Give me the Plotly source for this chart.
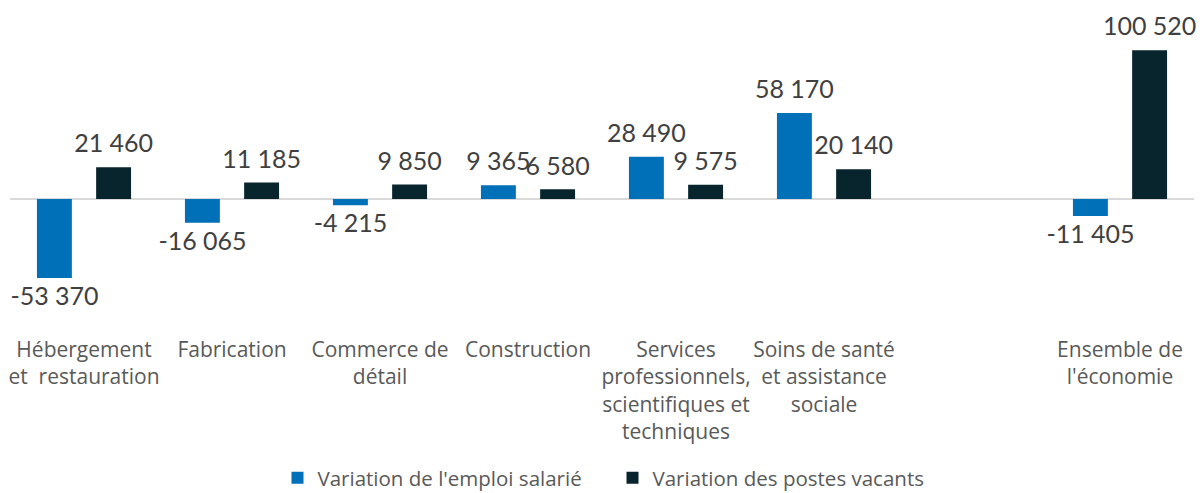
import plotly.graph_objects as go

categories = [
    "Hébergement<br>et  restauration",
    "Fabrication",
    "Commerce de<br>détail",
    "Construction",
    "Services<br>professionnels,<br>scientifiques et<br>techniques",
    "Soins de santé<br>et assistance<br>sociale",
    " ",
    "Ensemble de<br>l'économie",
]
emploi = [-53370, -16065, -4215, 9365, 28490, 58170, None, -11405]
postes = [21460, 11185, 9850, 6580, 9575, 20140, None, 100520]
series_names = ["Variation de l'emploi salarié", "Variation des postes vacants"]
colors = ["#0070B8", "#08242D"]

def fmt(v):
    if v is None:
        return ""
    s = f"{abs(v):,}".replace(",", "\u202f")
    return ("-" if v < 0 else "") + s

FONT = "Open Sans"
NUMFONT = "Lato"
fig = go.Figure()
for i, (name, vals, col) in enumerate(zip(series_names, [emploi, postes], colors)):
    fig.add_trace(go.Bar(
        x=categories, y=vals, name=name, offsetgroup=str(i),
        marker=dict(color=col, line=dict(width=0)),
    ))
for i, vals in enumerate([emploi, postes]):
    fig.add_trace(go.Scatter(
        x=categories, y=vals, mode="markers+text", offsetgroup=str(i), showlegend=False,
        text=[fmt(v) for v in vals],
        textposition=["bottom center" if (v is not None and v < 0) else "top center" for v in vals],
        textfont=dict(family=NUMFONT, size=25, color="#404040"),
        marker=dict(size=12, color="rgba(0,0,0,0)"), cliponaxis=False, hoverinfo="skip",
    ))

fig.update_layout(
    width=1203, height=493,
    margin=dict(l=10, r=9, t=30, b=163),
    paper_bgcolor="white", plot_bgcolor="white",
    barmode="group", scattermode="group", bargap=0.2, scattergap=0.2, bargroupgap=0.41,
    font=dict(family=FONT, size=21, color="#595959"),
    showlegend=True,
    legend=dict(orientation="h", xref="container", yref="container",
                x=0.5 + 11 / 1203, xanchor="center", y=1 - 478 / 493, yanchor="middle",
                entrywidth=290, font=dict(family=FONT, size=20.5, color="#595959")),
    xaxis=dict(showline=False, showgrid=False, ticks="", automargin=False,
               ticklabelstandoff=5, tickfont=dict(family=FONT, size=21, color="#595959")),
    yaxis=dict(range=[-88510, 114190], showgrid=False, showticklabels=False, automargin=False,
               zeroline=True, zerolinecolor="#D9D9D9", zerolinewidth=2),
)
fig.write_html("out.html", config={"displayModeBar": False},
               post_script="document.body.style.margin='0';document.body.style.overflow='hidden';")
